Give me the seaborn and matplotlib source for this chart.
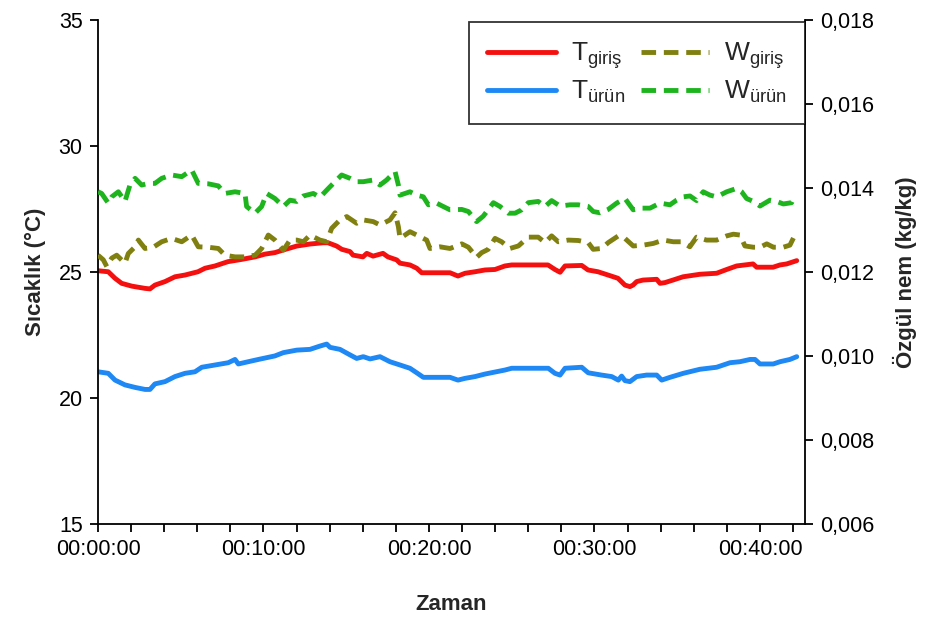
import matplotlib
matplotlib.use("Agg")
import matplotlib.pyplot as plt
import seaborn as sns
import pandas as pd
from matplotlib.ticker import MultipleLocator, FuncFormatter

# ---------------- data (time in minutes) ----------------
t_Tgiris = [0.0, 0.62, 1.03, 1.43, 2.04, 2.84, 3.14, 3.44, 4.05, 4.65, 5.26, 6.04, 6.47, 7.07, 7.85,
            8.68, 9.49, 10.09, 10.69, 11.18, 12.01, 12.81, 13.60, 13.90, 14.42, 14.73, 15.23, 15.41,
            16.01, 16.24, 16.62, 17.22, 17.52, 18.05, 18.25, 18.85, 19.26, 19.56, 21.27, 21.75, 22.18,
            22.78, 23.38, 23.99, 24.59, 25.00, 27.19, 27.61, 27.92, 28.22, 29.23, 29.61, 30.21, 30.82,
            31.42, 31.84, 32.14, 32.33, 32.55, 32.93, 33.76, 33.96, 34.26, 34.74, 35.35, 36.37, 37.38,
            37.99, 38.59, 39.58, 39.80, 40.79, 41.21, 41.61, 42.22]
T_giris = [25.05, 25.01, 24.75, 24.55, 24.44, 24.35, 24.33, 24.48, 24.62, 24.81, 24.88, 25.01, 25.15,
           25.24, 25.41, 25.50, 25.60, 25.71, 25.77, 25.87, 26.03, 26.11, 26.16, 26.16, 26.03, 25.90,
           25.81, 25.67, 25.60, 25.74, 25.63, 25.74, 25.60, 25.48, 25.35, 25.28, 25.15, 24.97, 24.97,
           24.84, 24.95, 25.01, 25.08, 25.10, 25.24, 25.28, 25.28, 25.10, 24.99, 25.24, 25.26, 25.08,
           25.01, 24.88, 24.75, 24.48, 24.42, 24.48, 24.62, 24.68, 24.71, 24.55, 24.58, 24.68, 24.81,
           24.91, 24.95, 25.10, 25.24, 25.32, 25.19, 25.19, 25.28, 25.32, 25.45]

t_Turun = [0.0, 0.62, 1.03, 1.63, 2.24, 2.84, 3.14, 3.44, 4.05, 4.65, 5.26, 5.86, 6.27, 7.07, 7.87,
           8.28, 8.48, 9.08, 9.69, 10.69, 11.20, 12.01, 12.81, 13.41, 13.82, 14.02, 14.62, 15.23, 15.63,
           16.03, 16.44, 17.04, 17.64, 18.25, 18.85, 19.26, 19.66, 21.27, 21.75, 22.18, 22.78, 23.38,
           24.59, 25.00, 27.21, 27.61, 27.92, 28.22, 29.23, 29.62, 30.43, 31.04, 31.44, 31.64, 31.84,
           32.14, 32.55, 33.15, 33.76, 34.06, 34.56, 35.37, 36.37, 37.38, 38.19, 38.79, 39.40, 39.70,
           40.00, 40.80, 41.21, 41.81, 42.22]
T_urun = [21.04, 20.98, 20.71, 20.52, 20.42, 20.34, 20.34, 20.56, 20.65, 20.85, 20.98, 21.04, 21.22,
          21.31, 21.40, 21.53, 21.35, 21.44, 21.53, 21.67, 21.80, 21.90, 21.93, 22.06, 22.14, 22.01,
          21.93, 21.71, 21.57, 21.64, 21.55, 21.64, 21.44, 21.31, 21.18, 21.00, 20.82, 20.82, 20.71,
          20.78, 20.85, 20.95, 21.11, 21.18, 21.18, 20.98, 20.91, 21.18, 21.22, 21.00, 20.91, 20.85,
          20.71, 20.87, 20.69, 20.65, 20.85, 20.91, 20.91, 20.71, 20.82, 20.98, 21.14, 21.22, 21.40,
          21.44, 21.53, 21.53, 21.35, 21.35, 21.44, 21.53, 21.64]

t_Wgiris = [0.0, 0.32, 0.53, 0.83, 1.13, 1.63, 1.83, 2.24, 2.44, 2.84, 3.34, 3.85, 4.45, 5.06, 5.66,
            6.06, 6.66, 7.27, 7.67, 8.28, 8.88, 9.49, 9.89, 10.29, 10.69, 11.20, 11.60, 12.01, 12.41,
            12.81, 13.41, 13.82, 14.12, 14.62, 15.03, 15.63, 16.03, 16.63, 17.04, 17.64, 17.95, 18.15,
            18.25, 18.85, 19.26, 19.86, 20.06, 20.66, 21.27, 21.98, 22.38, 22.88, 23.18, 23.58, 23.99,
            24.39, 24.89, 25.40, 26.00, 26.60, 27.01, 27.41, 27.81, 28.42, 29.02, 29.62, 29.92, 30.43,
            30.83, 31.44, 31.84, 32.34, 32.95, 33.55, 34.16, 34.76, 35.26, 35.76, 36.17, 36.77, 37.38,
            37.99, 38.39, 38.79, 39.09, 39.60, 40.00, 40.41, 40.81, 41.41, 41.81, 42.11]
W_giris = [0.01240, 0.01229, 0.01213, 0.01233, 0.01240, 0.01221, 0.01244, 0.01260, 0.01276, 0.01256,
           0.01259, 0.01272, 0.01280, 0.01272, 0.01288, 0.01260, 0.01259, 0.01256, 0.01240, 0.01236,
           0.01236, 0.01240, 0.01256, 0.01288, 0.01276, 0.01252, 0.01276, 0.01276, 0.01272, 0.01288,
           0.01276, 0.01272, 0.01304, 0.01324, 0.01332, 0.01316, 0.01324, 0.01320, 0.01312, 0.01324,
           0.01341, 0.01308, 0.01280, 0.01296, 0.01288, 0.01276, 0.01256, 0.01260, 0.01256, 0.01267,
           0.01259, 0.01235, 0.01246, 0.01254, 0.01280, 0.01272, 0.01256, 0.01262, 0.01283, 0.01283,
           0.01270, 0.01286, 0.01272, 0.01276, 0.01275, 0.01270, 0.01254, 0.01256, 0.01270, 0.01286,
           0.01280, 0.01262, 0.01264, 0.01268, 0.01276, 0.01272, 0.01272, 0.01260, 0.01283, 0.01276,
           0.01276, 0.01286, 0.01290, 0.01288, 0.01262, 0.01259, 0.01259, 0.01267, 0.01259, 0.01259,
           0.01264, 0.01288]

t_Wurun = [0.0, 0.22, 0.62, 0.83, 1.23, 1.63, 1.93, 2.24, 2.64, 3.04, 3.44, 3.85, 4.45, 5.06, 5.66,
           6.06, 6.66, 7.27, 7.67, 8.28, 8.88, 8.98, 9.49, 9.89, 10.19, 10.69, 11.20, 11.60, 12.01,
           12.41, 13.01, 13.41, 13.92, 14.22, 14.72, 15.23, 15.63, 16.03, 16.63, 17.04, 17.44, 17.95,
           18.15, 18.25, 18.85, 19.26, 19.66, 19.96, 20.46, 20.86, 21.27, 21.98, 22.38, 22.88, 23.28,
           23.89, 24.29, 24.79, 25.20, 25.60, 26.00, 26.60, 27.01, 27.41, 27.92, 28.52, 29.02, 29.62,
           29.92, 30.33, 30.83, 31.34, 31.84, 32.34, 32.75, 33.35, 33.96, 34.56, 34.96, 35.37, 35.77,
           36.17, 36.57, 36.98, 37.38, 37.99, 38.59, 38.89, 39.19, 39.60, 40.00, 40.60, 41.01, 41.41,
           41.91, 42.11]
W_urun = [0.01391, 0.01387, 0.01364, 0.01379, 0.01391, 0.01368, 0.01407, 0.01423, 0.01407, 0.01411,
          0.01411, 0.01423, 0.01431, 0.01427, 0.01443, 0.01411, 0.01410, 0.01405, 0.01387, 0.01391,
          0.01387, 0.01356, 0.01340, 0.01356, 0.01387, 0.01375, 0.01356, 0.01371, 0.01368, 0.01381,
          0.01387, 0.01378, 0.01399, 0.01411, 0.01431, 0.01423, 0.01415, 0.01415, 0.01419, 0.01407,
          0.01419, 0.01439, 0.01407, 0.01383, 0.01391, 0.01383, 0.01379, 0.01360, 0.01364, 0.01356,
          0.01348, 0.01349, 0.01344, 0.01320, 0.01333, 0.01365, 0.01356, 0.01340, 0.01340, 0.01348,
          0.01365, 0.01368, 0.01356, 0.01370, 0.01357, 0.01360, 0.01360, 0.01356, 0.01344, 0.01341,
          0.01349, 0.01364, 0.01375, 0.01348, 0.01352, 0.01352, 0.01364, 0.01360, 0.01371, 0.01379,
          0.01381, 0.01370, 0.01391, 0.01383, 0.01379, 0.01391, 0.01399, 0.01391, 0.01375, 0.01368,
          0.01357, 0.01371, 0.01368, 0.01362, 0.01365, 0.01383]

x_ticks = [0, 10, 20, 30, 40]
x_labels = ["00:00:00", "00:10:00", "00:20:00", "00:30:00", "00:40:00"]
labels = ["T$_{\\mathregular{giriş}}$", "T$_{\\mathregular{ürün}}$",
          "W$_{\\mathregular{giriş}}$", "W$_{\\mathregular{ürün}}$"]

# ---------------- style ----------------
sns.set_theme(style="ticks")
plt.rcParams["font.family"] = ["Liberation Sans", "DejaVu Sans"]
plt.rcParams["mathtext.fontset"] = "custom"
plt.rcParams["mathtext.rm"] = "Liberation Sans"
plt.rcParams["mathtext.it"] = "Liberation Sans"
plt.rcParams["mathtext.default"] = "regular"

C_RED = "#f51010"
C_BLUE = "#1e88f5"
C_OLIVE = "#808010"
C_GREEN = "#1eb41e"
LW = 3.5

fig = plt.figure(figsize=(9.3, 6.19), dpi=100)
ax = fig.add_axes([98 / 930, 1 - 524 / 619, 707 / 930, 504 / 619])
ax2 = ax.twinx()

df_tg = pd.DataFrame({"t": t_Tgiris, "v": T_giris})
df_tu = pd.DataFrame({"t": t_Turun, "v": T_urun})
df_wg = pd.DataFrame({"t": t_Wgiris, "v": W_giris})
df_wu = pd.DataFrame({"t": t_Wurun, "v": W_urun})

sns.lineplot(data=df_tg, x="t", y="v", ax=ax, color=C_RED, lw=LW, label=labels[0], legend=False)
sns.lineplot(data=df_tu, x="t", y="v", ax=ax, color=C_BLUE, lw=LW, label=labels[1], legend=False)
sns.lineplot(data=df_wg, x="t", y="v", ax=ax2, color=C_OLIVE, lw=LW, label=labels[2], legend=False,
             dashes=False)
sns.lineplot(data=df_wu, x="t", y="v", ax=ax2, color=C_GREEN, lw=LW, label=labels[3], legend=False,
             dashes=False)
for ln in ax2.get_lines():
    ln.set_dashes((3, 1.6))

for a in (ax, ax2):
    if a.get_legend() is not None:
        a.get_legend().remove()

ax.set_xlim(0, 42.72)
ax.set_ylim(15, 35)
ax2.set_ylim(0.006, 0.018)
ax.set_xticks(x_ticks)
ax.set_xticklabels(x_labels)
ax.xaxis.set_minor_locator(MultipleLocator(2))
ax.yaxis.set_major_locator(MultipleLocator(5))
ax2.yaxis.set_major_locator(MultipleLocator(0.002))
ax2.yaxis.set_major_formatter(FuncFormatter(lambda v, p: f"{v:.3f}".replace(".", ",")))

for a in (ax, ax2):
    for s in a.spines.values():
        s.set_linewidth(1.3)
        s.set_color("black")
    a.spines["top"].set_visible(False)
    a.tick_params(axis="both", which="both", direction="out", width=1.3, length=6,
                  labelsize=15.5, colors="black", pad=5)
ax.spines["right"].set_visible(False)
ax2.spines["left"].set_visible(False)
ax2.spines["bottom"].set_visible(False)

ax.set_xlabel("Zaman", fontsize=16, fontweight="bold", labelpad=24)
ax.set_ylabel("Sıcaklık (°C)", fontsize=16, fontweight="bold", labelpad=9)
ax2.set_ylabel("Özgül nem (kg/kg)", fontsize=16, fontweight="bold", labelpad=13)

h1, l1 = ax.get_legend_handles_labels()
h2, l2 = ax2.get_legend_handles_labels()
leg = ax2.legend(h1 + h2, l1 + l2, ncol=2, loc="upper right", bbox_to_anchor=(1.0, 0.996),
                 borderaxespad=0, frameon=True, fancybox=False, fontsize=19,
                 handlelength=2.6, handletextpad=0.55, columnspacing=0.6,
                 labelspacing=0.3, borderpad=0.7)
leg.get_frame().set_edgecolor("black")
leg.get_frame().set_linewidth(1.3)

fig.savefig("out.png", dpi=100)
